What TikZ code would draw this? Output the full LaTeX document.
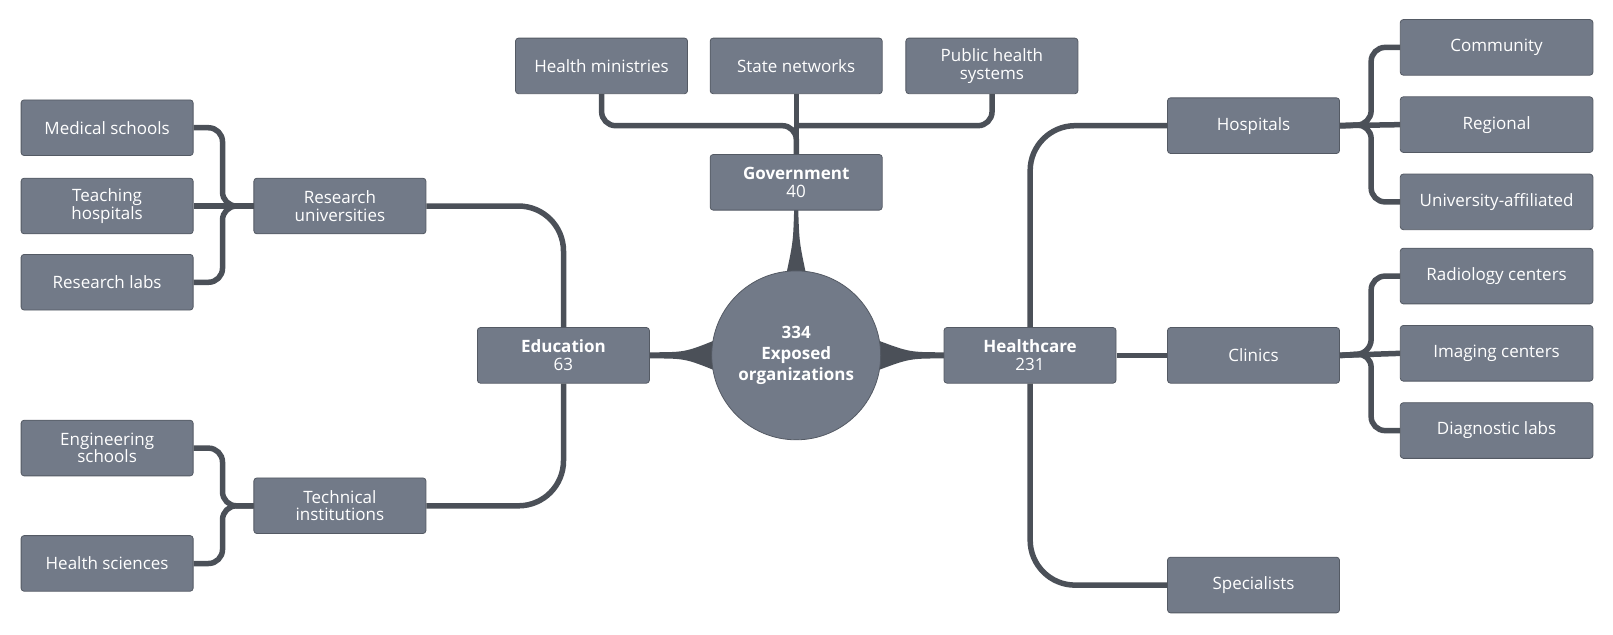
\documentclass[tikz,border=0pt]{standalone}
\usepackage{fontspec}
\setmainfont{Open Sans}
\definecolor{boxf}{HTML}{727A88}
\definecolor{boxb}{HTML}{545A64}
\definecolor{linkc}{HTML}{4B5058}
\begin{document}
\begin{tikzpicture}[x=1pt,y=-1pt,
  box/.style={draw=boxb,fill=boxf,rounded corners=3pt,minimum width=167pt,minimum height=54pt,text=white,align=center,font=\fontsize{16.5}{17}\selectfont,line width=0.8pt,inner sep=2pt},
  wbox/.style={box,minimum width=187pt},
  link/.style={draw=linkc,line width=5.5pt,rounded corners=45pt},
  slink/.style={draw=linkc,line width=5.5pt,rounded corners=14pt}]
\begin{scope}[scale=1.03,transform shape]
% tapers
\fill[linkc] (763,268) .. controls (770,235) .. (771,204) -- (775,204) .. controls (776,235) .. (783,268) -- cycle;
\fill[linkc] (631,342) .. controls (665,342) .. (695,330) -- (695,360) .. controls (665,348) .. (631,348) -- cycle;
\fill[linkc] (917,342) .. controls (883,342) .. (851,330) -- (851,360) .. controls (883,348) .. (917,348) -- cycle;
% nodes
\node[box] (hm) at (584,64) {Health ministries};
\node[box] (sn) at (773,64) {State networks};
\node[box] (ph) at (963,64) {Public health\\systems};
\node[box] (gov) at (773,177) {\textbf{Government}\\40};
\node[circle,draw=boxb,fill=boxf,minimum size=164pt,text=white,align=center,font=\fontsize{16.5}{20}\selectfont\bfseries,line width=0.8pt] (c) at (773,345) {334\\Exposed\\organizations};
\node[box] (edu) at (547,345) {\textbf{Education}\\63};
\node[box] (hc) at (1000,345) {\textbf{Healthcare}\\231};
\node[box] (ru) at (330,200) {Research\\universities};
\node[box] (ti) at (330,491) {Technical\\institutions};
\node[box] (ms) at (104,124) {Medical schools};
\node[box] (th) at (104,200) {Teaching\\hospitals};
\node[box] (rl) at (104,274) {Research labs};
\node[box] (es) at (104,435) {Engineering\\schools};
\node[box] (hs) at (104,547) {Health sciences};
\node[box] (hosp) at (1217,122) {Hospitals};
\node[box] (cl) at (1217,345) {Clinics};
\node[box] (sp) at (1217,568) {Specialists};
\node[wbox] (co) at (1453,46) {Community};
\node[wbox] (re) at (1453,121) {Regional};
\node[wbox] (ua) at (1453,196) {University-affiliated};
\node[wbox] (ra) at (1453,268) {Radiology centers};
\node[wbox] (im) at (1453,343) {Imaging centers};
\node[wbox] (dl) at (1453,418) {Diagnostic labs};
\coordinate (gj) at (773,122);
% government
\path[slink] (hm.south) |- (gj) -- (gov.north);
\path[slink] (ph.south) |- (gj);
\path[slink] (sn.south) -- (gov.north);
% education
\path[link] (edu.north) |- (ru.east);
\path[link] (edu.south) |- (ti.east);
\coordinate (rj) at (216,200);
\path[slink] (ru.west) -- (rj) |- (ms.east);
\path[slink] (ru.west) -- (rj) |- (rl.east);
\path[slink] (ru.west) -- (th.east);
\coordinate (tj) at (216,491);
\path[slink] (ti.west) -- (tj) |- (es.east);
\path[slink] (ti.west) -- (tj) |- (hs.east);
% healthcare
\path[link] (hc.north) |- (hosp.west);
\path[link] (hc.south) |- (sp.west);
\path[slink] (hc.east) -- (cl.west);
\coordinate (hj) at (1331,121);
\path[slink] (hosp.east) -- (hj) |- (co.west);
\path[slink] (hosp.east) -- (hj) |- (ua.west);
\path[slink] (hosp.east) -- (re.west);
\coordinate (cj) at (1331,343);
\path[slink] (cl.east) -- (cj) |- (ra.west);
\path[slink] (cl.east) -- (cj) |- (dl.west);
\path[slink] (cl.east) -- (im.west);
\end{scope}
\pgfresetboundingbox
\path[use as bounding box] (0,0) rectangle (1613,634);
\end{tikzpicture}
\end{document}
